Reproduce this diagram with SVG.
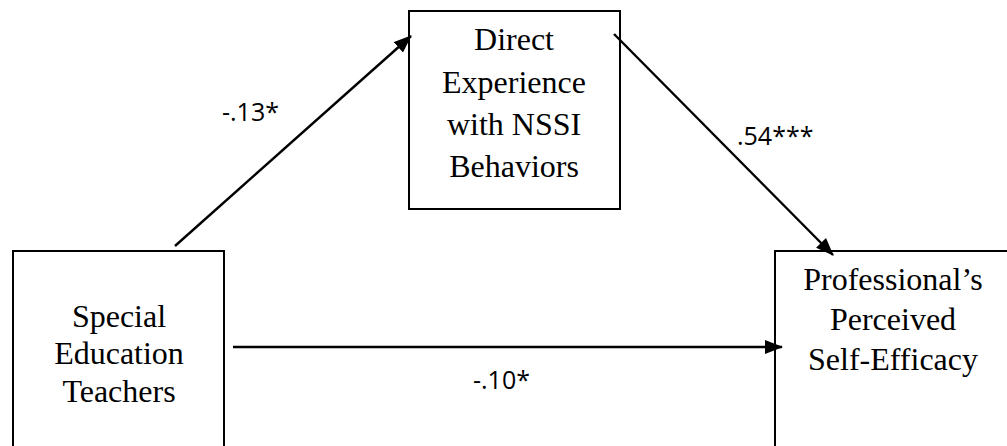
<svg xmlns="http://www.w3.org/2000/svg" width="1007" height="446" viewBox="0 0 1007 446">
<style>
.box{fill:#fff;stroke:#000;stroke-width:2}
.lbl{font-family:"Liberation Serif","Times New Roman",serif;font-size:32px;fill:#000;text-anchor:middle}
.coef{font-family:"Open Sans","Liberation Sans",sans-serif;font-size:25px;fill:#000}
.conn{stroke:#000;stroke-width:2.4;fill:none;marker-end:url(#ah)}
</style>
<defs>
<marker id="ah" markerUnits="userSpaceOnUse" markerWidth="18" markerHeight="14" viewBox="0 0 18 14" refX="17" refY="7" orient="auto">
<path d="M0,0 L18,7 L0,14 Z" fill="#000"/>
</marker>
</defs>
<rect width="1007" height="446" fill="#fff"/>
<g id="node-direct">
<rect class="box" x="409" y="11" width="211" height="198"/>
<text class="lbl" x="514" y="50">Direct</text>
<text class="lbl" x="514" y="93">Experience</text>
<text class="lbl" x="514" y="135">with NSSI</text>
<text class="lbl" x="514" y="177">Behaviors</text>
</g>
<g id="node-teachers">
<rect class="box" x="13" y="251" width="211" height="210"/>
<text class="lbl" x="119" y="327">Special</text>
<text class="lbl" x="119" y="364">Education</text>
<text class="lbl" x="119" y="402">Teachers</text>
</g>
<g id="node-efficacy">
<rect class="box" x="775" y="251" width="250" height="210"/>
<text class="lbl" x="893" y="290">Professional’s</text>
<text class="lbl" x="893" y="330">Perceived</text>
<text class="lbl" x="893" y="370">Self-Efficacy</text>
</g>
<g id="connectors">
<line class="conn" x1="175" y1="246" x2="411" y2="36"/>
<line class="conn" x1="614" y1="34" x2="833" y2="255"/>
<line class="conn" x1="233" y1="347" x2="782" y2="347"/>
<text class="coef" x="222" y="121">-.13*</text>
<text class="coef" x="737" y="145">.54***</text>
<text class="coef" x="473" y="389">-.10*</text>
</g>
</svg>
